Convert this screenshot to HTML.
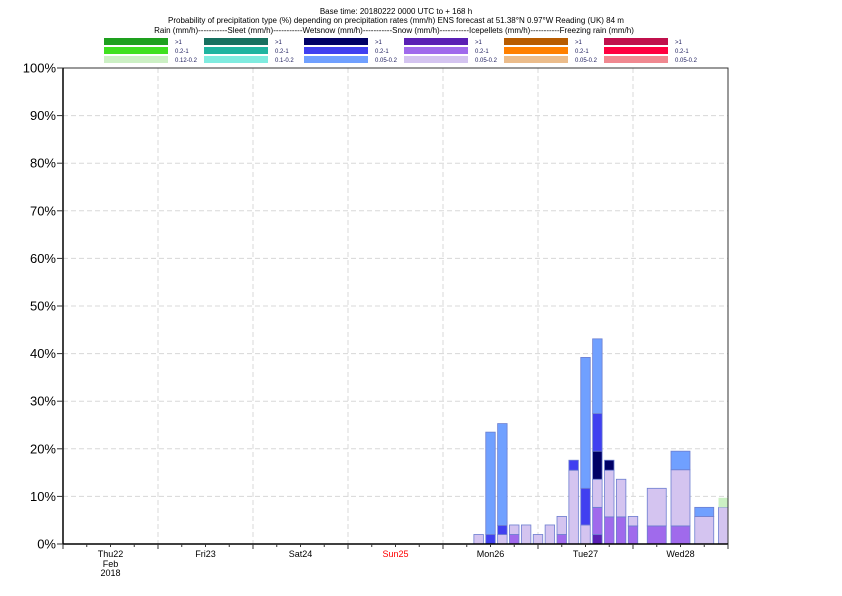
<!DOCTYPE html>
<html><head><meta charset="utf-8"><style>
body{margin:0;background:#fff}
svg{display:block;font-family:"Liberation Sans",sans-serif}
</style></head><body>
<svg id="chart" width="842" height="596" viewBox="0 0 842 596">
<g font-size="8" text-anchor="middle" fill="#000">
<text x="396" y="14">Base time: 20180222 0000 UTC to + 168 h</text>
<text x="396" y="23">Probability of precipitation type (%) depending on precipitation rates (mm/h) ENS forecast at 51.38°N  0.97°W Reading (UK) 84 m</text>
<text x="394" y="33">Rain (mm/h)-----------Sleet (mm/h)-----------Wetsnow (mm/h)-----------Snow (mm/h)-----------Icepellets (mm/h)-----------Freezing rain (mm/h)</text>
</g>
<g id="legend"></g>
<g id="grid"></g>
<g id="bars"></g>
<g id="axes"></g>
</svg>
<script>
// hours at which bars are centered
const hours = [105,108,111,114,117,120,123,126,129,132,135,138,141,144,150,156,162,168];
// stacked series (%), each category x intensity
const snowHeavy   = [0,0,0,0,0,0,0,0,0,0,2,0,0,0,0,0,0,0];
const snowMid     = [0,0,0,2,0,0,0,2,0,0,5.7,5.7,5.7,3.8,3.8,3.8,0,0];
const snowLight   = [2,0,2,2,4,2,4,3.8,15.5,4,5.9,9.8,7.9,2,7.9,11.8,5.8,7.7];
const wetHeavy    = [0,0,0,0,0,0,0,0,0,0,5.9,2.1,0,0,0,0,0,0];
const wetMid      = [0,2,1.9,0,0,0,0,0,2.1,7.7,7.9,0,0,0,0,0,0,0];
const wetLight    = [0,21.5,21.4,0,0,0,0,0,0,27.5,15.7,0,0,0,0,3.9,1.9,0];
const rainLight   = [0,0,0,0,0,0,0,0,0,0,0,0,0,0,0,0,0,2];
const yTicks = [0,10,20,30,40,50,60,70,80,90,100];
const dayLabels = ["Thu22","Fri23","Sat24","Sun25","Mon26","Tue27","Wed28"];

const NS="http://www.w3.org/2000/svg";
const X0=63,X1=728,Y0=544,Y1=68;
const xs=h=>X0+h*(X1-X0)/168;
const ys=v=>Y0-v*(Y0-Y1)/100;
function mk(tag,attrs,parent){const e=document.createElementNS(NS,tag);for(const k in attrs)e.setAttribute(k,attrs[k]);parent.appendChild(e);return e;}

// legend
const leg=document.getElementById('legend');
const legCols=[["#1ea01e","#3fe01f","#ccf0c4","0.12-0.2"],["#17705f","#1fb4a0","#80ece0","0.1-0.2"],["#000066","#4040f0","#70a0ff","0.05-0.2"],["#5a1fb4","#a06aec","#d4c4f0","0.05-0.2"],["#b85c00","#ff8000","#ebbc8a","0.05-0.2"],["#c0104c","#ff0040","#f08890","0.05-0.2"]];
legCols.forEach((c,i)=>{
  const x=104+i*100;
  [0,1,2].forEach(r=>{
    const y=38+r*9;
    const rc=mk('rect',{x:x,y:y,width:64,height:7,fill:c[r]},leg);
    
    
    const t=mk('text',{x:x+71,y:y+6,'font-size':6,fill:'#202060'},leg);
    t.textContent=r==0?'>1':r==1?'0.2-1':c[3];
    
    
  });
});

// grid
const grid=document.getElementById('grid');
yTicks.forEach(v=>{
  if(v>0&&v<100){const l=mk('line',{x1:X0,x2:X1,y1:ys(v),y2:ys(v),stroke:'#d8d8d8','stroke-dasharray':'5,3'},grid);
  
  }
});
for(let d=1;d<7;d++){const l=mk('line',{x1:xs(d*24),x2:xs(d*24),y1:Y1,y2:Y0,stroke:'#d8d8d8','stroke-dasharray':'5,3'},grid);

}

// bars
const bars=document.getElementById('bars');
const series=[[snowHeavy,"#5a1fb4"],[snowMid,"#a06aec"],[snowLight,"#d4c4f0"],[wetHeavy,"#000066"],[wetMid,"#4040f0"],[wetLight,"#70a0ff"],[rainLight,"#ccf0c4"]];
const clip=mk('clipPath',{id:'pc'},bars);mk('rect',{x:X0,y:Y1,width:X1-X0,height:Y0-Y1},clip);
const bg=mk('g',{'clip-path':'url(#pc)'},bars);
hours.forEach((h,i)=>{
  const w=h>144?19:9.5;
  const x=xs(h)-w/2;
  let acc=0;
  series.forEach(([arr,col])=>{
    const v=arr[i];if(!v)return;
    const r=mk('rect',{x:x,y:ys(acc+v),width:w,height:ys(acc)-ys(acc+v),fill:col,stroke:col=="#ccf0c4"?"none":"#6c7ed0",'stroke-width':0.8},bg);
    
    
    acc+=v;
  });
});

// axes
const ax=document.getElementById('axes');
const fr=mk('rect',{x:X0,y:Y1,width:X1-X0,height:Y0-Y1,fill:'none',stroke:'#333','stroke-width':1},ax);


mk('line',{x1:X0,x2:X0,y1:Y1,y2:Y0,stroke:'#000','stroke-width':1.5},ax);
mk('line',{x1:X0,x2:X1,y1:Y0,y2:Y0,stroke:'#000','stroke-width':1.5},ax);
yTicks.forEach(v=>{
  mk('line',{x1:57,x2:X0,y1:ys(v),y2:ys(v),stroke:'#333'},ax);
  const t=mk('text',{x:56,y:ys(v)+4.5,'font-size':13,'text-anchor':'end',fill:'#000'},ax);
  t.textContent=v+'%';
  
  
});
for(let h=0;h<=168;h+=6){mk('line',{x1:xs(h),x2:xs(h),y1:Y0,y2:Y0+(h%24==0?5:3),stroke:'#333'},ax);}
dayLabels.forEach((d,i)=>{
  const t=mk('text',{x:xs(i*24+12),y:557,'font-size':9,'text-anchor':'middle',fill:d=="Sun25"?"#ff0000":"#000"},ax);
  t.textContent=d;
  
  
});
[["Feb",567],["2018",576]].forEach(([s,y])=>{const t=mk('text',{x:xs(12),y:y,'font-size':9,'text-anchor':'middle'},ax);t.textContent=s;

});
</script>
</body></html>
